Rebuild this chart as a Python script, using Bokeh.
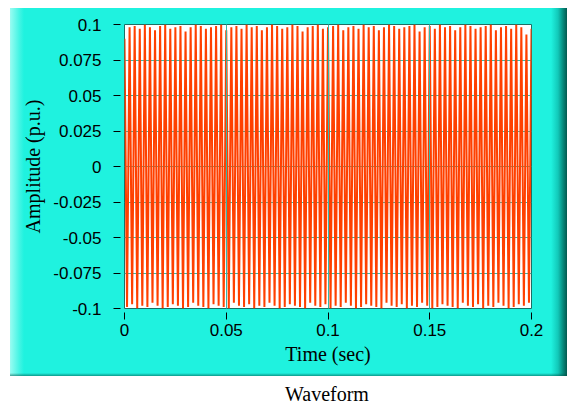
from bokeh.plotting import figure
from bokeh.models import FixedTicker, CustomJSTickFormatter, Div
from bokeh.layouts import column
from bokeh.embed import file_html
from bokeh.resources import INLINE

# Waveform read cycle by cycle: positive peak and negative trough of each cycle (p.u.)
half_period = 0.00125  # s, time between a peak and the next trough (~400 Hz)
peaks = [
    0.090, 0.098, 0.099, 0.097, 0.100, 0.098, 0.096, 0.099, 0.100, 0.097,
    0.098, 0.099, 0.095, 0.098, 0.100, 0.099, 0.097, 0.098, 0.099, 0.100,
    0.096, 0.098, 0.099, 0.097, 0.100, 0.098, 0.099, 0.096, 0.098, 0.100,
    0.099, 0.097, 0.098, 0.100, 0.099, 0.095, 0.098, 0.099, 0.100, 0.097,
    0.098, 0.099, 0.100, 0.096, 0.098, 0.099, 0.097, 0.100, 0.098, 0.099,
    0.096, 0.098, 0.100, 0.099, 0.097, 0.098, 0.099, 0.100, 0.095, 0.098,
    0.099, 0.097, 0.100, 0.098, 0.099, 0.096, 0.098, 0.100, 0.099, 0.097,
    0.098, 0.099, 0.100, 0.096, 0.098, 0.099, 0.097, 0.100, 0.098, 0.093,
    0.097,
]
troughs = [
    -0.099, -0.097, -0.100, -0.098, -0.099, -0.096, -0.098, -0.100, -0.099, -0.097,
    -0.098, -0.100, -0.099, -0.096, -0.098, -0.099, -0.100, -0.097, -0.098, -0.099,
    -0.100, -0.096, -0.098, -0.099, -0.097, -0.100, -0.098, -0.099, -0.096, -0.098,
    -0.100, -0.099, -0.097, -0.098, -0.099, -0.100, -0.096, -0.098, -0.099, -0.097,
    -0.100, -0.098, -0.099, -0.096, -0.098, -0.100, -0.099, -0.097, -0.098, -0.099,
    -0.100, -0.096, -0.098, -0.099, -0.097, -0.100, -0.098, -0.099, -0.096, -0.098,
    -0.100, -0.099, -0.097, -0.098, -0.099, -0.100, -0.096, -0.098, -0.099, -0.097,
    -0.100, -0.098, -0.099, -0.096, -0.098, -0.100, -0.099, -0.097, -0.098, -0.096,
]

amplitude = []
for i, pk in enumerate(peaks):
    amplitude.append(pk)
    if i < len(troughs):
        amplitude.append(troughs[i])
time = [i * half_period for i in range(len(amplitude))]

x_ticks = [0, 0.05, 0.1, 0.15, 0.2]
y_ticks = [-0.1, -0.075, -0.05, -0.025, 0, 0.025, 0.05, 0.075, 0.1]

p = figure(
    width=568, height=376,
    x_range=(0, 0.2), y_range=(-0.1, 0.1),
    output_backend="svg", toolbar_location=None,
    min_border_left=124, min_border_right=37,
    min_border_top=24, min_border_bottom=68,
)
p.border_fill_alpha = 0
p.background_fill_color = "white"
p.outline_line_color = "#1d6f64"
p.outline_line_width = 1
p.styles = {
    "background": (
        "linear-gradient(to bottom, #ffffff 0px, #ffffff 8px, rgba(255,255,255,0) 8px),"
        "linear-gradient(to top, rgba(0,80,70,0.55) 0px, rgba(0,80,70,0) 3px) 10px 0px / 557px 100% no-repeat,"
        "linear-gradient(to right, #ffffff 0px, #ffffff 10px, #9afcf2 10px, "
        "#3ef4e3 20px, #1ff2df 24px, #1ff2df 551px, #12c9b9 558px, "
        "#078a7c 563px, #04594f 567px, #ffffff 567px)"
    )
}

p.line(time, amplitude, line_color="#ff4000", line_width=2.0)

p.xaxis.ticker = FixedTicker(ticks=x_ticks)
p.yaxis.ticker = FixedTicker(ticks=y_ticks)
p.xaxis.formatter = CustomJSTickFormatter(code="return String(tick);")
p.yaxis.formatter = CustomJSTickFormatter(code="return String(tick);")

for ax in (p.xaxis, p.yaxis):
    ax.axis_line_color = None
    ax.major_tick_in = -4
    ax.major_tick_out = 11
    ax.major_tick_line_color = "black"
    ax.minor_tick_line_color = None
    ax.major_label_text_font = "Liberation Sans"
    ax.major_label_text_font_size = "17px"
    ax.major_label_text_color = "black"
    ax.axis_label_text_font = "Liberation Serif"
    ax.axis_label_text_font_size = "20px"
    ax.axis_label_text_font_style = "normal"
    ax.axis_label_text_color = "black"

p.xaxis.axis_label = "Time (sec)"
p.yaxis.axis_label = "Amplitude (p.u.)"
p.yaxis.major_label_standoff = 12
p.xaxis.major_label_standoff = 4
p.xaxis.axis_label_standoff = 4
p.yaxis.axis_label_standoff = 6

p.grid.grid_line_color = "#35b8a8"
p.grid.grid_line_width = 1
p.xgrid.level = "overlay"
p.ygrid.level = "underlay"
p.xgrid.ticker = FixedTicker(ticks=x_ticks)
p.ygrid.ticker = FixedTicker(ticks=y_ticks)

caption = Div(
    text=("<div style=\"margin-left:285px;margin-top:8px;font-family:'Liberation Serif';"
          "font-size:20px;line-height:20px;color:black;white-space:nowrap;\">Waveform</div>"),
    width=568, height=30, margin=0,
)

layout = column(p, caption, spacing=0)
open("out.html", "w").write(file_html(layout, INLINE))
